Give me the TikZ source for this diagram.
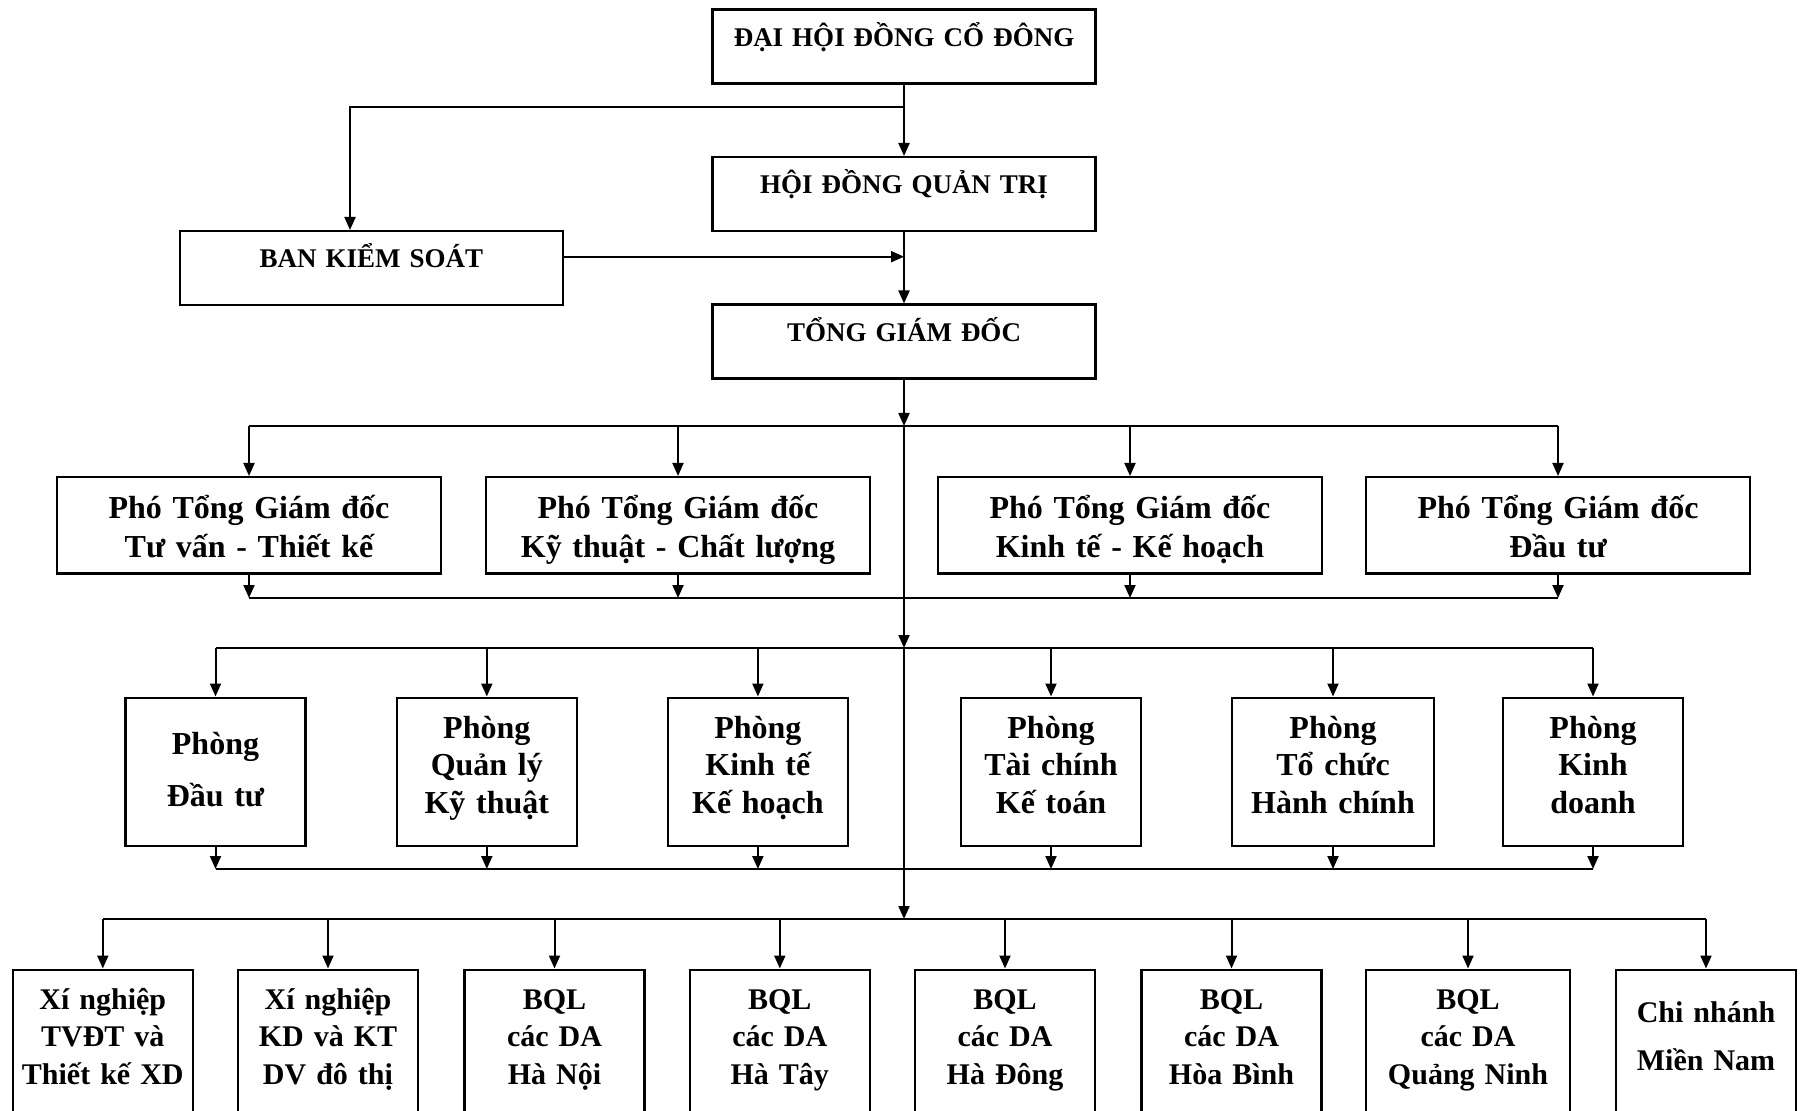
\documentclass[tikz,border=0pt]{standalone}
\usepackage{fontspec}
\setmainfont{Liberation Serif}
\usetikzlibrary{arrows.meta}

\begin{document}
\begin{tikzpicture}[
  x=0.5pt, y=-0.5pt,
  >={Triangle[length=6.5pt,width=5.5pt]},
  line/.style={line width=1pt},
  box/.style={draw, line width=1.2pt, inner sep=0pt, anchor=north, align=center},
  headbox/.style={box, text width=191.5pt, text height=18.4pt, text depth=18.6pt, font=\fontsize{13.5}{16}\selectfont\bfseries},
  vicebox/.style={box, text width=192pt, text height=20.8pt, text depth=27.4pt, font=\fontsize{16}{19.5}\selectfont\bfseries},
  deptbox/.style={box, text width=90pt, text height=20.2pt, text depth=53.8pt, font=\fontsize{16}{18.75}\selectfont\bfseries},
  unitbox/.style={box, text width=90pt, text height=19.8pt, text depth=65.2pt, font=\fontsize{15}{18.75}\selectfont\bfseries},
]
\useasboundingbox (0,0) rectangle (1802,1111);
\clip (0,0) rectangle (1802,1111);

% Row 1: governance
\node[headbox] (dhd) at (904,8.5) {ĐẠI HỘI ĐỒNG CỔ ĐÔNG};
\node[headbox] (hdqt) at (904,156) {HỘI ĐỒNG QUẢN TRỊ};
\node[headbox] (bks) at (371.5,230) {BAN KIỂM SOÁT};
\node[headbox] (tgd) at (904,303.5) {TỔNG GIÁM ĐỐC};

% Row 2: deputies
\node[vicebox] (pho1) at (249,476) {Phó Tổng Giám đốc\\Tư vấn - Thiết kế};
\node[vicebox] (pho2) at (678,476) {Phó Tổng Giám đốc\\Kỹ thuật - Chất lượng};
\node[vicebox] (pho3) at (1130,476) {Phó Tổng Giám đốc\\Kinh tế - Kế hoạch};
\node[vicebox] (pho4) at (1558,476) {Phó Tổng Giám đốc\\Đầu tư};

% Row 3: departments
\node[deptbox, text height=28.5pt, text depth=45.5pt] (ph1) at (215.5,696.5) {Phòng\\[7.3pt]Đầu tư};
\node[deptbox] (ph2) at (486.8,696.5) {Phòng\\Quản lý\\Kỹ thuật};
\node[deptbox] (ph3) at (757.9,696.5) {Phòng\\Kinh tế\\Kế hoạch};
\node[deptbox] (ph4) at (1051,696.5) {Phòng\\Tài chính\\Kế toán};
\node[deptbox, text width=101pt] (ph5) at (1333,696.5) {Phòng\\Tổ chức\\Hành chính};
\node[deptbox] (ph6) at (1593,696.5) {Phòng\\Kinh\\doanh};

% Row 4: units
\node[unitbox] (dv1) at (102.8,968.5) {Xí nghiệp\\TVĐT và\\Thiết kế XD};
\node[unitbox] (dv2) at (328,968.5) {Xí nghiệp\\KD và KT\\DV đô thị};
\node[unitbox] (dv3) at (554.5,968.5) {BQL\\các DA\\Hà Nội};
\node[unitbox] (dv4) at (779.8,968.5) {BQL\\các DA\\Hà Tây};
\node[unitbox] (dv5) at (1005,968.5) {BQL\\các DA\\Hà Đông};
\node[unitbox] (dv6) at (1231.5,968.5) {BQL\\các DA\\Hòa Bình};
\node[unitbox, text width=102pt] (dv7) at (1468,968.5) {BQL\\các DA\\Quảng Ninh};
\node[unitbox, text height=26.5pt, text depth=58.5pt] (dv8) at (1706,968.5) {Chi nhánh\\[5.25pt]Miền Nam};

% Junctions on the trunk
\coordinate (split) at (904,107);
\coordinate (b1) at (904,426);
\coordinate (b2) at (904,598);
\coordinate (b3) at (904,648);
\coordinate (b4) at (904,869);
\coordinate (b5) at (904,919);

% Top arrows
\draw[line, ->] (dhd.south) -- (hdqt.north);
\draw[line, ->] (split) -| ([xshift=-10.75pt]bks.north);
\draw[line, ->] (hdqt.south) -- (tgd.north);
\draw[line, ->] ([yshift=5.75pt]bks.east) -- ([yshift=5.75pt]bks.east -| hdqt.south);

% Trunk
\draw[line, ->] (tgd.south) -- (b1);
\draw[line, ->] (b1) -- (b3);
\draw[line, ->] (b3) -- (b5);

% Deputies
\draw[line] (pho1.north |- b1) -- (pho4.north |- b1);
\draw[line, ->] (pho1.north |- b1) -- (pho1.north);
\draw[line, ->] (pho2.north |- b1) -- (pho2.north);
\draw[line, ->] (pho3.north |- b1) -- (pho3.north);
\draw[line, ->] (pho4.north |- b1) -- (pho4.north);
\draw[line, ->] (pho1.south) -- (pho1.south |- b2);
\draw[line, ->] (pho2.south) -- (pho2.south |- b2);
\draw[line, ->] (pho3.south) -- (pho3.south |- b2);
\draw[line, ->] (pho4.south) -- (pho4.south |- b2);
\draw[line] (pho1.south |- b2) -- (pho4.south |- b2);

% Departments
\draw[line] (ph1.north |- b3) -- (ph6.north |- b3);
\draw[line, ->] (ph1.north |- b3) -- (ph1.north);
\draw[line, ->] (ph2.north |- b3) -- (ph2.north);
\draw[line, ->] (ph3.north |- b3) -- (ph3.north);
\draw[line, ->] (ph4.north |- b3) -- (ph4.north);
\draw[line, ->] (ph5.north |- b3) -- (ph5.north);
\draw[line, ->] (ph6.north |- b3) -- (ph6.north);
\draw[line, ->] (ph1.south) -- (ph1.south |- b4);
\draw[line, ->] (ph2.south) -- (ph2.south |- b4);
\draw[line, ->] (ph3.south) -- (ph3.south |- b4);
\draw[line, ->] (ph4.south) -- (ph4.south |- b4);
\draw[line, ->] (ph5.south) -- (ph5.south |- b4);
\draw[line, ->] (ph6.south) -- (ph6.south |- b4);
\draw[line] (ph1.south |- b4) -- (ph6.south |- b4);

% Units
\draw[line] (dv1.north |- b5) -- (dv8.north |- b5);
\draw[line, ->] (dv1.north |- b5) -- (dv1.north);
\draw[line, ->] (dv2.north |- b5) -- (dv2.north);
\draw[line, ->] (dv3.north |- b5) -- (dv3.north);
\draw[line, ->] (dv4.north |- b5) -- (dv4.north);
\draw[line, ->] (dv5.north |- b5) -- (dv5.north);
\draw[line, ->] (dv6.north |- b5) -- (dv6.north);
\draw[line, ->] (dv7.north |- b5) -- (dv7.north);
\draw[line, ->] (dv8.north |- b5) -- (dv8.north);

\end{tikzpicture}
\end{document}
